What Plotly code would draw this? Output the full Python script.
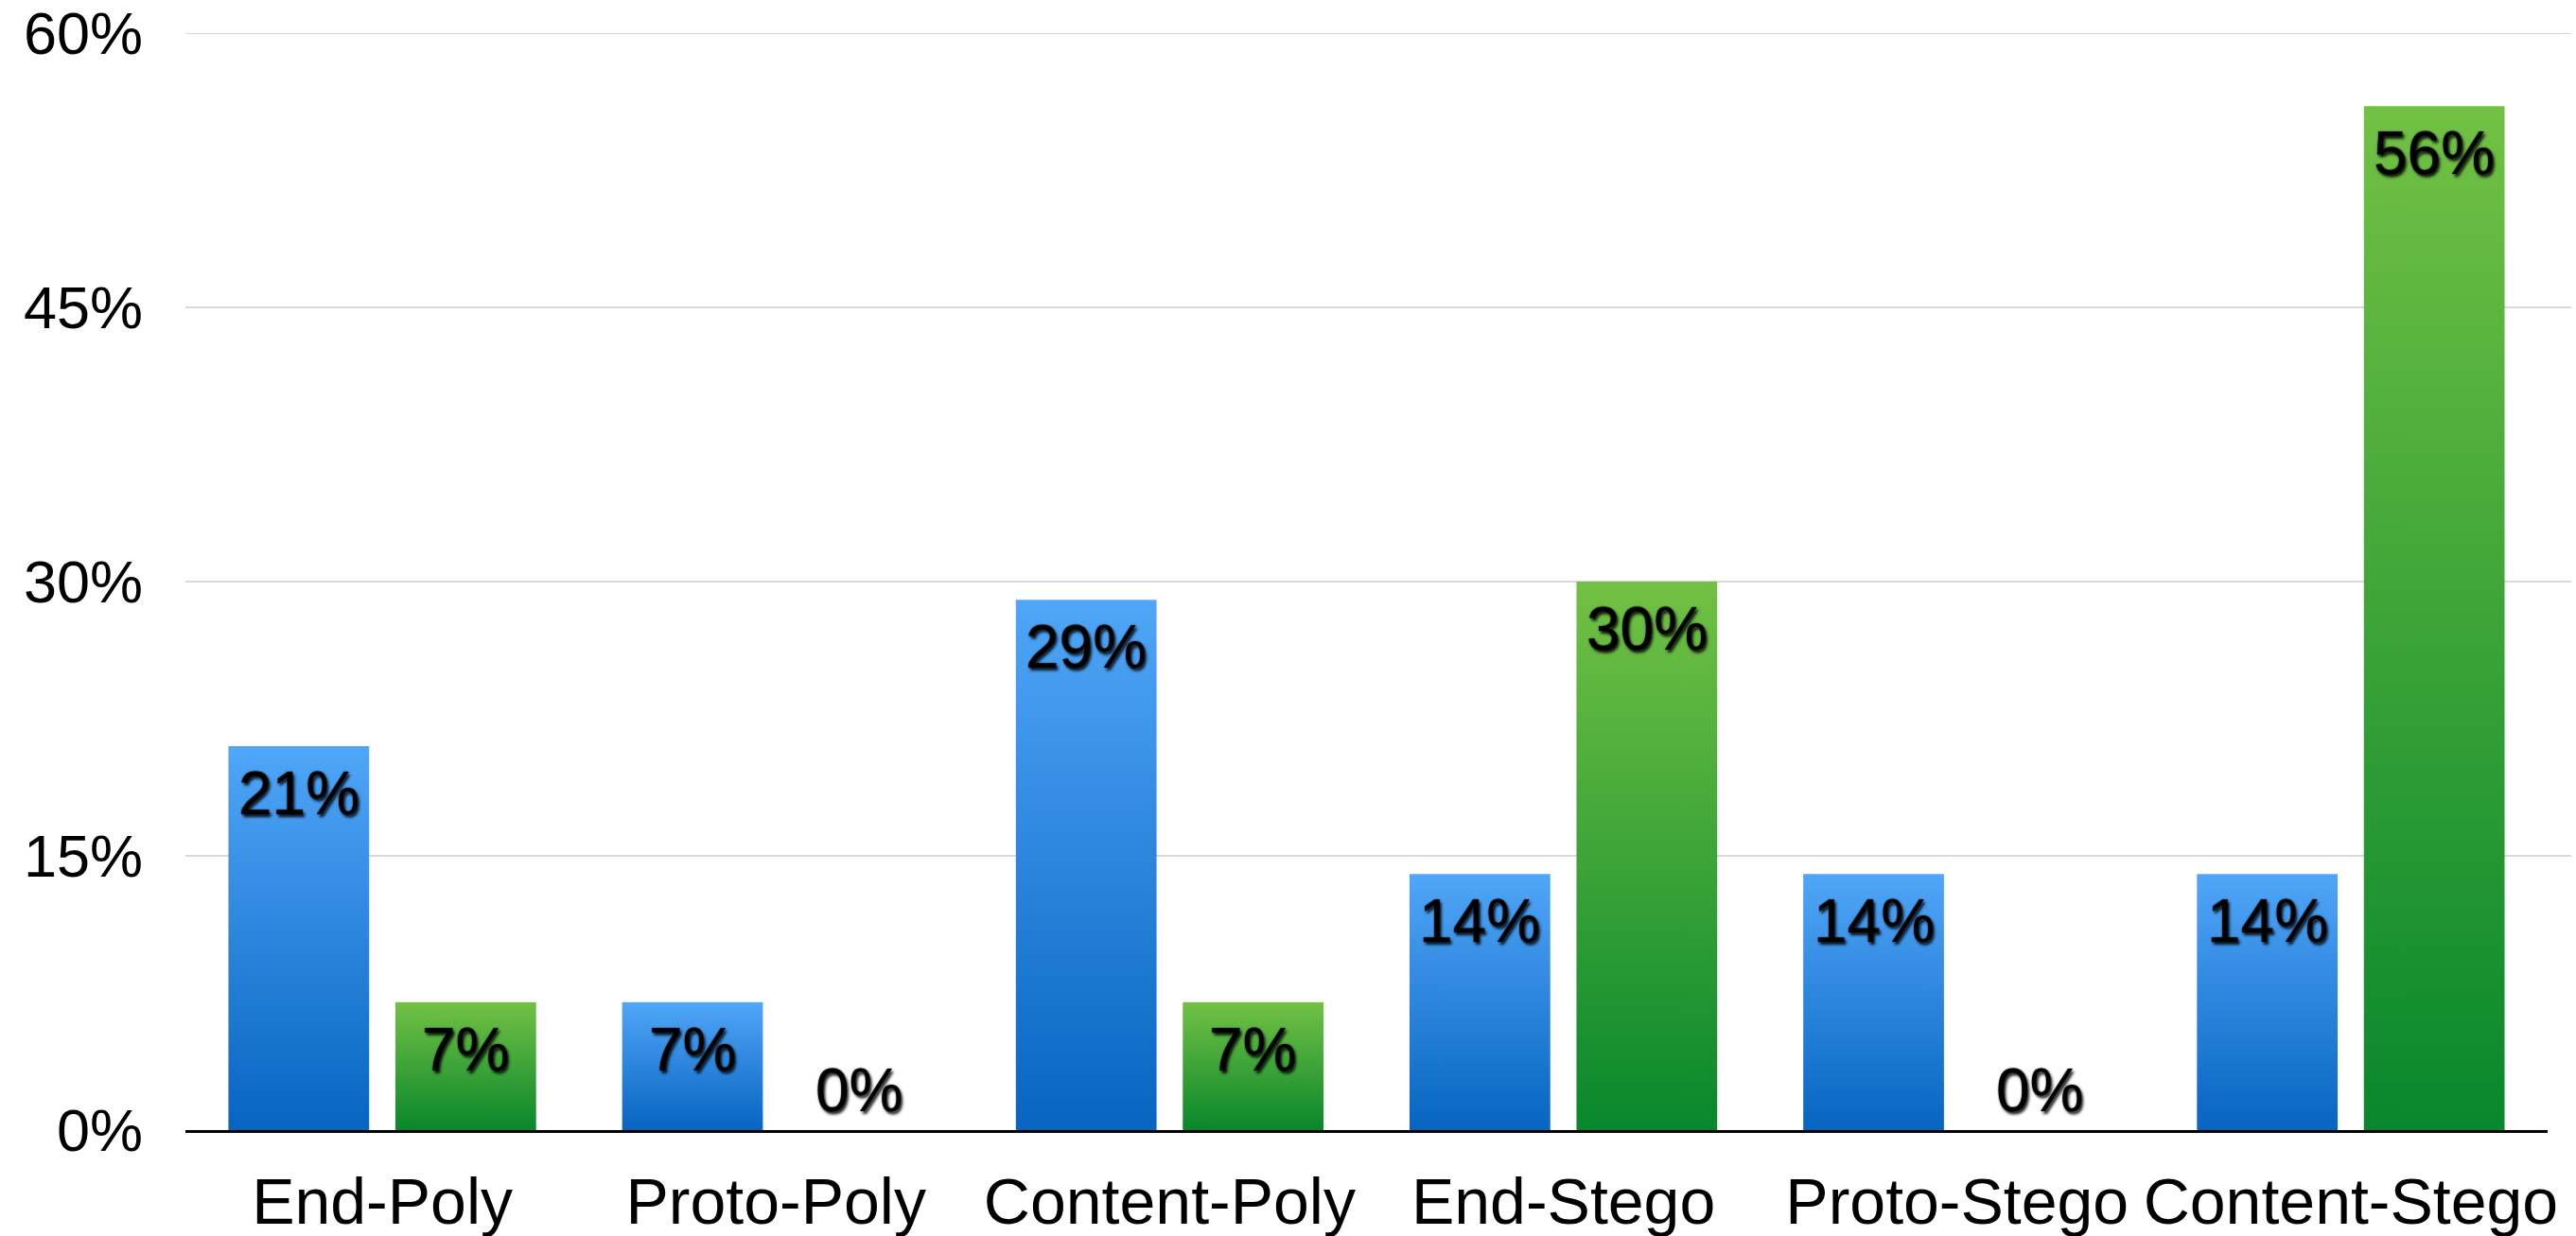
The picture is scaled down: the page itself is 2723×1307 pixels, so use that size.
import plotly.graph_objects as go

categories = ["End-Poly", "Proto-Poly", "Content-Poly", "End-Stego", "Proto-Stego", "Content-Stego"]
series_blue = [21, 7, 29, 14, 14, 14]
series_green = [7, 0, 7, 30, 0, 56]
y_ticks = [0, 15, 30, 45, 60]
y_tick_labels = ["0%", "15%", "30%", "45%", "60%"]

# bar gradient colours (top, bottom)
BLUE_GRAD = ("#50a6f8", "#0764c0")
GREEN_GRAD = ("#72c144", "#08872c")

FONT = "Liberation Sans, Arial, Helvetica, sans-serif"
label_font = dict(family=FONT, size=64, color="black",
                  shadow="2px 3px 3px rgba(0,0,0,0.85), 0px 0px 2px rgba(0,0,0,0.7)")

W, H = 2723, 1307
ML, MR, MT, MB = 196, 30, 35, 112
BARGAP, GROUPGAP = 0.152, 0.157
cat_px = (W - ML - MR) / len(categories)
slot_px = cat_px * (1 - BARGAP) / 2

fig = go.Figure()
series = [("blue", series_blue, "#2c85dc", -1), ("green", series_green, "#3da638", 1)]
for name, vals, col, side in series:
    fig.add_trace(go.Bar(
        x=categories, y=vals, name=name,
        marker=dict(color=col, line=dict(width=0)),
        hoverinfo="skip",
    ))

annotations = []
for name, vals, col, side in series:
    for c, v in zip(categories, vals):
        inside = v > 0
        annotations.append(dict(
            x=c, y=v, xref="x", yref="y", text=f"{v}%", showarrow=False,
            xshift=side * slot_px / 2,
            yanchor="top" if inside else "bottom",
            yshift=-12 if inside else 4,
            font=label_font,
        ))

shapes = []
for t in y_ticks[1:]:
    shapes.append(dict(type="line", xref="paper", yref="y", x0=0, x1=1.01, y0=t, y1=t,
                       line=dict(color="#d9d9d9", width=2), layer="below"))

fig.update_layout(
    width=W, height=H,
    margin=dict(l=ML, r=MR, t=MT, b=MB, autoexpand=False),
    paper_bgcolor="white", plot_bgcolor="white",
    showlegend=False,
    barmode="group", bargap=BARGAP, bargroupgap=GROUPGAP,
    font=dict(family=FONT, color="black"),
    annotations=annotations,
    shapes=shapes,
    xaxis=dict(
        showgrid=False, showline=True, linecolor="black", linewidth=3,
        ticks="", tickfont=dict(family=FONT, size=68, color="black"),
        ticklabelstandoff=14,
    ),
    yaxis=dict(
        range=[0, 60], tickvals=y_ticks, ticktext=y_tick_labels,
        showgrid=False, zeroline=False, showline=False, ticks="",
        tickfont=dict(family=FONT, size=63, color="black"),
        ticklabelstandoff=44,
    ),
)

post_js = """
(function(){
  var gd = document.getElementById('{plot_id}');
  var NS = 'http://www.w3.org/2000/svg';
  function apply(){
    var svg = gd.querySelector('svg.main-svg');
    var defs = svg.querySelector('defs');
    function mk(id, c1, c2){
      if (document.getElementById(id)) return;
      var g = document.createElementNS(NS, 'linearGradient');
      g.setAttribute('id', id);
      g.setAttribute('x1', '0'); g.setAttribute('y1', '0');
      g.setAttribute('x2', '0'); g.setAttribute('y2', '1');
      [[0, c1], [1, c2]].forEach(function(s){
        var st = document.createElementNS(NS, 'stop');
        st.setAttribute('offset', s[0]);
        st.setAttribute('stop-color', s[1]);
        g.appendChild(st);
      });
      defs.appendChild(g);
    }
    mk('gradBlue', 'BLUE_TOP', 'BLUE_BOT');
    mk('gradGreen', 'GREEN_TOP', 'GREEN_BOT');
    var traces = gd.querySelectorAll('g.trace.bars');
    traces.forEach(function(t, i){
      t.querySelectorAll('path').forEach(function(p){
        p.style.fill = 'url(#' + (i === 0 ? 'gradBlue' : 'gradGreen') + ')';
      });
    });
  }
  apply();
  gd.on && gd.on('plotly_afterplot', apply);
})();
"""
post_js = (post_js.replace("BLUE_TOP", BLUE_GRAD[0]).replace("BLUE_BOT", BLUE_GRAD[1])
           .replace("GREEN_TOP", GREEN_GRAD[0]).replace("GREEN_BOT", GREEN_GRAD[1]))

fig.write_html("out.html", post_script=post_js)
